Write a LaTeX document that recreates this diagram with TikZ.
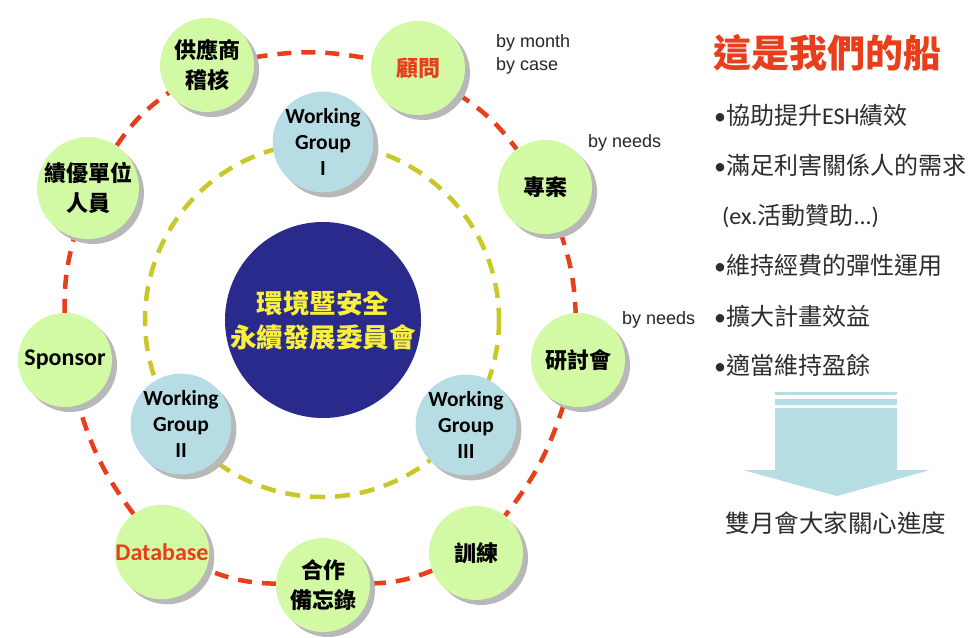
\documentclass[tikz,border=0pt]{standalone}
\usepackage{fontspec}
\setmainfont{Carlito}
\newfontfamily\cjk{Noto Sans CJK TC}
\newfontfamily\arialf{Liberation Sans}
\usetikzlibrary{shadows,backgrounds}
\pgfdeclarelayer{paper}
\pgfsetlayers{paper,background,main}
\definecolor{ringred}{RGB}{232,62,28}
\definecolor{ringyel}{RGB}{200,200,40}
\definecolor{limefill}{RGB}{210,250,165}
\definecolor{wgblue}{RGB}{183,221,228}
\definecolor{navyfill}{RGB}{42,42,140}
\definecolor{cyel}{RGB}{250,240,60}
\definecolor{titlered}{RGB}{232,62,28}
\definecolor{txtgray}{RGB}{45,45,45}
\definecolor{arrowblue}{RGB}{183,221,228}
\tikzset{
  shad/.style={drop shadow={shadow xshift=5pt, shadow yshift=-5pt, fill=black!28, opacity=1}},
  outer/.style={circle, fill=limefill, minimum size=94pt, inner sep=0pt, align=center,
     font=\cjk\bfseries\fontsize{22}{30}\selectfont, text=black, shad},
  wg/.style={circle, fill=wgblue, minimum size=92pt, inner sep=0pt, align=center,
     font=\bfseries\fontsize{21.5}{26}\selectfont, text=black, shad},
  reddash/.style={draw=ringred, line width=4.5pt, dash pattern=on 14pt off 10pt},
  yeldash/.style={draw=ringyel, line width=4.5pt, dash pattern=on 15pt off 10pt},
  side/.style={anchor=west, inner sep=0pt, text=txtgray, font=\cjk\fontsize{24}{24}\selectfont},
  note/.style={anchor=west, inner sep=0pt, align=left, text=black!85, font=\arialf\fontsize{18}{23}\selectfont}
}
\begin{document}
\begin{tikzpicture}[x=1pt,y=-1pt]
\begin{pgfonlayer}{paper}
\fill[white] (0,0) rectangle (973,637);
\end{pgfonlayer}
\useasboundingbox (0,0) rectangle (973,637);
% center
\node[circle, fill=navyfill, minimum size=196pt, inner sep=0pt, align=center,
  text=cyel, font=\cjk\bfseries\fontsize{26.5}{34}\selectfont] (ctr) at (323,320) {環境暨安全\\永續發展委員會};
% working groups
\node[wg] (w1) at (323,142) {Working\\Group\\I};
\node[wg] (w2) at (181,424) {Working\\Group\\II};
\node[wg] (w3) at (466,425) {Working\\Group\\III};
% outer nodes
\node[outer] (gy) at (207,65) {供應商\\稽核};
\node[outer, text=ringred] (gw) at (418,68) {顧問};
\node[outer] (zj) at (545,187) {專案};
\node[outer] (yt) at (578,360) {研討會};
\node[outer] (xl) at (476,553) {訓練};
\node[outer] (hz) at (323,585) {合作\\備忘錄};
\node[outer, font=\bfseries\fontsize{24}{26}\selectfont, text=ringred] (db) at (162,552) {Database};
\node[outer, font=\bfseries\fontsize{24}{26}\selectfont] (sp) at (65,360) {Sponsor};
\node[outer] (jy) at (88,188) {績優單位\\人員};
\begin{scope}[on background layer]
\draw[yeldash] (322,320) circle[radius=177];
\draw[reddash] (gy) to[bend left=10] (gw);
\draw[reddash] (gw) to[bend left=10] (zj);
\draw[reddash] (zj) to[bend left=8] (yt);
\draw[reddash] (yt) to[bend left=10] (xl);
\draw[reddash] (xl) to[bend left=10] (hz);
\draw[reddash] (hz) to[bend left=10] (db);
\draw[reddash] (db) to[bend left=10] (sp);
\draw[reddash] (sp) to[bend left=8] (jy);
\draw[reddash] (jy) to[bend left=10] (gy);
\end{scope}
% notes
\node[note] (n1) at (496,54) {by month\\by case};
\node[note] (n2) at (588,143) {by needs};
\node[note] (n3) at (622,320) {by needs};
% right side
\node[anchor=west, inner sep=0pt, text=titlered, font=\cjk\bfseries\fontsize{38}{38}\selectfont] (title) at (713,53) {這是我們的船};
\node[side] (b1) at (714,115) {\fontspec{Carlito}•\cjk 協助提升\fontspec{Carlito}ESH\cjk 績效};
\node[side] (b2) at (714,165) {\fontspec{Carlito}•\cjk 滿足利害關係人的需求};
\node[side] (b3) at (722,216) {\fontspec{Carlito}(ex.\cjk 活動贊助\fontspec{Carlito}...)};
\node[side] (b4) at (714,265) {\fontspec{Carlito}•\cjk 維持經費的彈性運用};
\node[side] (b5) at (714,316) {\fontspec{Carlito}•\cjk 擴大計畫效益};
\node[side] (b6) at (714,365) {\fontspec{Carlito}•\cjk 適當維持盈餘};
\fill[arrowblue] (775,392) rectangle (897,395);
\fill[arrowblue] (775,399) rectangle (897,405);
\fill[arrowblue] (775,408) -- (897,408) -- (897,470) -- (930,470) -- (837,496) -- (743,470) -- (775,470) -- cycle;
\node[anchor=center, inner sep=0pt, text=txtgray, font=\cjk\fontsize{24.5}{24.5}\selectfont] (bottom) at (836,523) {雙月會大家關心進度};
\end{tikzpicture}
\end{document}
